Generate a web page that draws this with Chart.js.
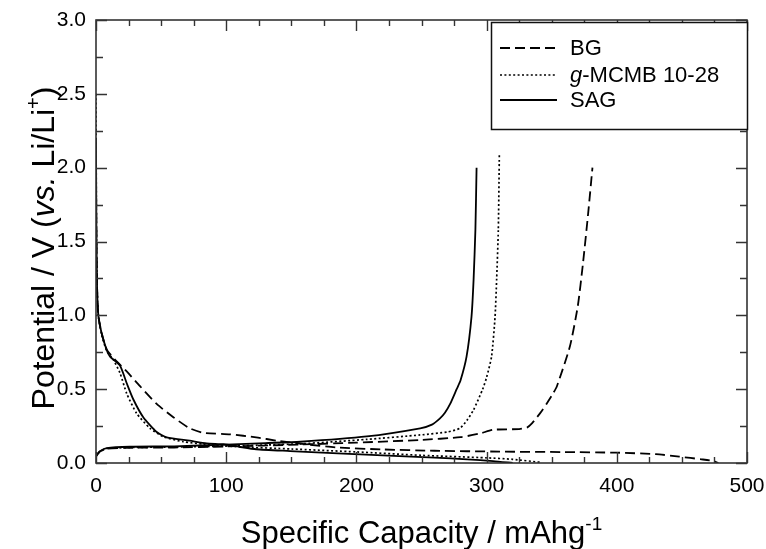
<!DOCTYPE html>
<html>
<head>
<meta charset="utf-8">
<script src="https://cdn.jsdelivr.net/npm/chart.js@4.4.1/dist/chart.umd.min.js"></script>
<style>
  html, body { margin: 0; padding: 0; background: #fff; }
  #wrap { width: 766px; height: 549px; position: relative; }
</style>
</head>
<body>
<div id="wrap"><canvas id="capChart" width="766" height="549"></canvas></div>
<script>
// series names (legend order)
var seriesNames = ['BG', 'g-MCMB 10-28', 'SAG'];

// BG - lithiation (first discharge) and delithiation (charge)
var bgDisCap = [0, 0.3, 0.8, 1.8, 4.3, 8.2, 14.6, 23.6, 33.8, 46.6, 59.4, 72, 82.4, 103, 123, 139, 160, 185, 220, 260, 310, 360, 400, 430, 448, 465, 474, 478];
var bgDisV   = [2.0, 1.6, 1.2, 1.0, 0.88, 0.77, 0.70, 0.62, 0.52, 0.40, 0.31, 0.235, 0.205, 0.194, 0.174, 0.151, 0.128, 0.105, 0.092, 0.083, 0.077, 0.074, 0.07, 0.06, 0.043, 0.025, 0.014, 0.0];
var bgChCap  = [0, 1.5, 3, 8.2, 26, 60, 100, 157, 200, 249, 280, 295, 305, 325, 331, 335, 341, 346, 351, 354, 364, 370, 374, 378, 381.3];
var bgChV    = [0.045, 0.063, 0.078, 0.097, 0.103, 0.105, 0.112, 0.125, 0.138, 0.156, 0.175, 0.20, 0.225, 0.23, 0.24, 0.27, 0.336, 0.40, 0.47, 0.52, 0.79, 1.06, 1.35, 1.69, 2.0];

// g-MCMB 10-28
var mcDisCap = [0, 0.3, 0.8, 1.8, 4.3, 8.2, 13.3, 18.4, 23.6, 31.2, 41.5, 51.7, 67, 82.4, 110, 150, 200, 250, 300, 320, 341];
var mcDisV   = [2.5, 1.6, 1.2, 1.0, 0.87, 0.76, 0.70, 0.61, 0.47, 0.336, 0.235, 0.178, 0.144, 0.128, 0.11, 0.095, 0.075, 0.052, 0.035, 0.025, 0.005];
var mcChCap  = [0, 1.5, 3, 8.2, 26, 60, 100, 157, 208, 249, 270, 279.5, 285, 290, 297, 300, 303.8, 306.5, 307.7, 309, 309.8];
var mcChV    = [0.045, 0.063, 0.078, 0.098, 0.105, 0.108, 0.115, 0.13, 0.16, 0.19, 0.21, 0.235, 0.29, 0.36, 0.50, 0.58, 0.72, 0.99, 1.24, 1.58, 2.1];

// SAG
var sagDisCap = [0, 0.3, 0.8, 1.8, 4.3, 8.2, 10.8, 18.4, 23.6, 28.7, 36.3, 46.6, 54.3, 72, 85, 98, 110, 123, 149, 190, 233, 260, 285, 305, 320];
var sagDisV   = [2.2, 1.6, 1.2, 1.0, 0.88, 0.765, 0.72, 0.66, 0.54, 0.43, 0.31, 0.21, 0.174, 0.151, 0.133, 0.127, 0.11, 0.093, 0.081, 0.063, 0.047, 0.037, 0.025, 0.013, 0.0];
var sagChCap  = [0, 1.5, 3, 8.2, 26, 60, 100, 130, 157, 208, 249, 258, 264, 268, 272, 277, 280, 284.6, 288.4, 290, 291.4, 292.3];
var sagChV    = [0.047, 0.065, 0.08, 0.10, 0.11, 0.113, 0.125, 0.135, 0.144, 0.18, 0.235, 0.26, 0.30, 0.34, 0.40, 0.50, 0.56, 0.72, 0.99, 1.24, 1.58, 2.0];

// axis ticks
var xMin = 0, xMax = 500, xStep = 100, xMinorStep = 25;
var yMin = 0, yMax = 3, yStep = 0.5, yMinorStep = 0.25;

var fontFam = '"Liberation Sans", Arial, Helvetica, sans-serif';
var axisColor = '#333333';

function toPoints(xs, ys) {
    var pts = [];
    for (var i = 0; i < xs.length; i++) {
        pts.push({ x: xs[i], y: ys[i] });
    }
    return pts;
}

// line style per material
var styles = [
    { dash: [10, 5], width: 1.8 },
    { dash: [2, 2.4], width: 1.7 },
    { dash: [], width: 1.8 }
];

function makeSet(label, idx, xs, ys) {
    return {
        label: label,
        data: toPoints(xs, ys),
        showLine: true,
        borderColor: '#000',
        borderWidth: styles[idx].width,
        borderDash: styles[idx].dash,
        pointRadius: 0,
        tension: 0.2,
        fill: false
    };
}

// draws text made of parts with different fonts / offsets
function richWidth(ctx, parts) {
    var w = 0;
    parts.forEach(function (p) {
        ctx.font = p.font;
        w += ctx.measureText(p.text).width;
    });
    return w;
}
function drawRich(ctx, parts, x, y) {
    var cx = x;
    parts.forEach(function (p) {
        ctx.font = p.font;
        ctx.fillText(p.text, cx, y + (p.dy || 0));
        cx += ctx.measureText(p.text).width;
    });
}

var framePlugin = {
    id: 'framePlugin',
    afterDraw: function (chart) {
        var ctx = chart.ctx;
        var a = chart.chartArea;
        var xs = chart.scales.x, ys = chart.scales.y;
        ctx.save();

        // frame
        ctx.strokeStyle = axisColor;
        ctx.lineWidth = 1.6;
        ctx.setLineDash([]);
        ctx.strokeRect(a.left, a.top, a.right - a.left, a.bottom - a.top);

        // inward ticks on all four sides
        ctx.lineWidth = 1.4;
        ctx.beginPath();
        for (var v = xMin; v <= xMax + 0.001; v += xMinorStep) {
            var px = Math.round(xs.getPixelForValue(v)) + 0.5;
            var len = (Math.abs(v % xStep) < 0.001) ? 11 : 6;
            ctx.moveTo(px, a.bottom); ctx.lineTo(px, a.bottom - len);
            ctx.moveTo(px, a.top); ctx.lineTo(px, a.top + len);
        }
        for (var w = yMin; w <= yMax + 0.001; w += yMinorStep) {
            var py = Math.round(ys.getPixelForValue(w)) + 0.5;
            var len2 = (Math.abs((w / yStep) - Math.round(w / yStep)) < 0.001) ? 11 : 7;
            ctx.moveTo(a.left, py); ctx.lineTo(a.left + len2, py);
            ctx.moveTo(a.right, py); ctx.lineTo(a.right - len2, py);
        }
        ctx.stroke();

        // axis titles
        ctx.fillStyle = '#000';
        ctx.textBaseline = 'alphabetic';
        ctx.textAlign = 'left';
        var big = '31px ' + fontFam;
        var xParts = [
            { text: 'Specific Capacity / mAhg', font: big },
            { text: '-1', font: '19px ' + fontFam, dy: -13 }
        ];
        var xw = richWidth(ctx, xParts);
        drawRich(ctx, xParts, (a.left + a.right) / 2 - xw / 2, 543);

        var yBig = '32px ' + fontFam;
        var yParts = [
            { text: 'Potential / V (', font: yBig },
            { text: 'vs.', font: 'italic ' + yBig },
            { text: ' Li/Li', font: yBig },
            { text: '+', font: '20px ' + fontFam, dy: -14 },
            { text: ')', font: yBig }
        ];
        var yw = richWidth(ctx, yParts);
        ctx.save();
        ctx.translate(54, 248);
        ctx.rotate(-Math.PI / 2);
        drawRich(ctx, yParts, -yw / 2, 0);
        ctx.restore();

        // legend box inside plot, top right
        var bx = 491, by = 22, bw = 257, bh = 108;
        ctx.fillStyle = '#fff';
        ctx.fillRect(bx, by, bw, bh);
        ctx.strokeStyle = '#111';
        ctx.lineWidth = 1.5;
        ctx.strokeRect(bx + 0.5, by + 0.5, bw - 1, bh - 1);

        var rowY = [48, 75, 100];
        var legFont = '22px ' + fontFam;
        for (var i = 0; i < seriesNames.length; i++) {
            var ds = chart.data.datasets[i * 2];
            ctx.strokeStyle = '#000';
            ctx.lineWidth = ds.borderWidth;
            ctx.setLineDash(ds.borderDash);
            ctx.beginPath();
            ctx.moveTo(500, rowY[i]);
            ctx.lineTo(557, rowY[i]);
            ctx.stroke();
            ctx.setLineDash([]);

            ctx.fillStyle = '#000';
            ctx.textBaseline = 'middle';
            var name = seriesNames[i];
            var parts;
            if (name.indexOf('g-') === 0) {
                parts = [
                    { text: 'g', font: 'italic ' + legFont },
                    { text: name.slice(1), font: legFont }
                ];
            } else {
                parts = [{ text: name, font: legFont }];
            }
            drawRich(ctx, parts, 570, rowY[i] + 1);
        }
        ctx.restore();
    }
};

var ctx = document.getElementById('capChart').getContext('2d');
var capChart = new Chart(ctx, {
    type: 'scatter',
    data: {
        datasets: [
            makeSet(seriesNames[0], 0, bgDisCap, bgDisV),
            makeSet(seriesNames[0], 0, bgChCap, bgChV),
            makeSet(seriesNames[1], 1, mcDisCap, mcDisV),
            makeSet(seriesNames[1], 1, mcChCap, mcChV),
            makeSet(seriesNames[2], 2, sagDisCap, sagDisV),
            makeSet(seriesNames[2], 2, sagChCap, sagChV)
        ]
    },
    options: {
        responsive: false,
        animation: false,
        layout: {
            padding: { top: 20, right: 19, left: 0, bottom: 0 }
        },
        plugins: {
            legend: { display: false },
            tooltip: { enabled: false }
        },
        scales: {
            x: {
                type: 'linear',
                min: xMin,
                max: xMax,
                grid: { display: false, drawTicks: false },
                border: { display: false },
                ticks: {
                    stepSize: xStep,
                    padding: 11,
                    color: '#000',
                    font: { family: fontFam, size: 21 },
                    maxRotation: 0,
                    callback: function (v) { return v; }
                },
                afterFit: function (scale) {
                    scale.height = 86;
                    scale.paddingLeft = 0;
                    scale.paddingRight = 0;
                }
            },
            y: {
                type: 'linear',
                min: yMin,
                max: yMax,
                grid: { display: false, drawTicks: false },
                border: { display: false },
                ticks: {
                    stepSize: yStep,
                    padding: 10,
                    color: '#000',
                    font: { family: fontFam, size: 21 },
                    callback: function (v) { return v.toFixed(1); }
                },
                afterFit: function (scale) {
                    scale.width = 96;
                    scale.paddingTop = 0;
                    scale.paddingBottom = 0;
                }
            }
        }
    },
    plugins: [framePlugin]
});
</script>
</body>
</html>
